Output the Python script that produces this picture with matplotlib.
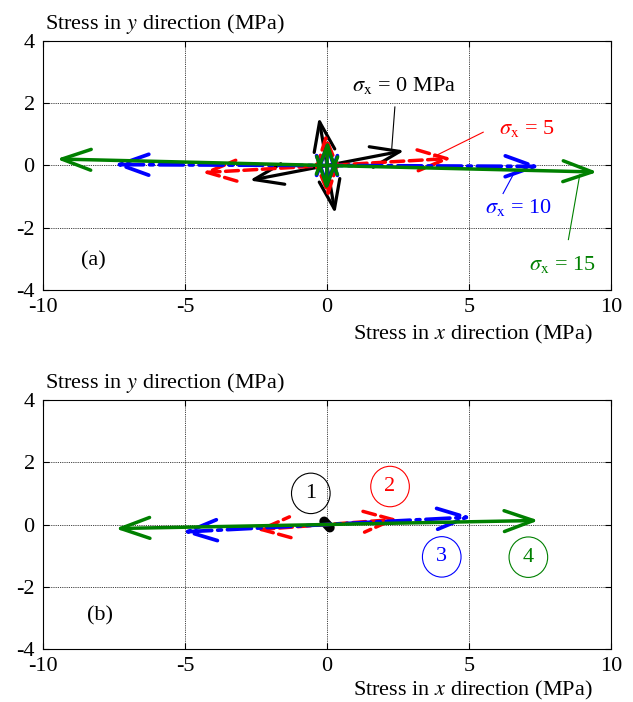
import matplotlib
matplotlib.use('Agg')
import matplotlib.pyplot as plt
from matplotlib.patches import FancyArrowPatch, Ellipse

plt.rcParams['font.family'] = ['Liberation Serif', 'DejaVu Serif']
plt.rcParams['mathtext.fontset'] = 'stix'
plt.rcParams['axes.unicode_minus'] = False

# ---------------- data ----------------
# panel (a): sigma_x = 0, 5, 10, 15 MPa
# tip of one arrowhead of each principal stress (the other tip is the mirror)
MAJOR_A_X = [2.73, 4.40, 7.50, 9.52]
MAJOR_A_Y = [0.48, 0.23, -0.03, -0.21]
MINOR_A_X = [-0.29, -0.05, 0.00, 0.02]
MINOR_A_Y = [1.55, 1.05, 0.80, 0.82]

ANNOT_TEXT = [r'$\sigma_{\mathrm{x}}$ = 0 MPa', r'$\sigma_{\mathrm{x}}$ = 5',
              r'$\sigma_{\mathrm{x}}$ = 10', r'$\sigma_{\mathrm{x}}$ = 15']
ANNOT_X = [0.87, 6.07, 5.56, 7.12]
ANNOT_Y = [2.56, 1.20, -1.35, -3.17]
LEADER_X0 = [2.39, 5.50, 6.20, 8.50]
LEADER_Y0 = [1.88, 1.07, -0.90, -2.38]
LEADER_X1 = [2.28, 3.75, 6.63, 8.90]
LEADER_Y1 = [0.55, 0.28, -0.17, -0.30]

# panel (b): cases 1-4
MAJOR_B_X = [0.10, 2.50, 5.10, 7.45]
MAJOR_B_Y = [-0.10, 0.17, 0.24, 0.13]
CASE_LABELS = ['1', '2', '3', '4']
CASE_X = [-0.57, 2.22, 4.04, 7.09]
CASE_Y = [1.00, 1.22, -1.04, -1.05]

XTICKS = [-10, -5, 0, 5, 10]
YTICKS = [-4, -2, 0, 2, 4]

# ---------------- style ----------------
COLORS = ['black', 'red', 'blue', '#008000']
STYLES = ['-', '--', '-.', '-']
WIDTHS = [2.3, 2.5, 2.7, 2.5]
FS = 16


def draw_arrow(ax, dx, dy, i, hl=21, hw=7.5, lw=None):
    arr = FancyArrowPatch((-dx, -dy), (dx, dy),
                          arrowstyle=f'<->,head_length={hl},head_width={hw}',
                          mutation_scale=1, shrinkA=0, shrinkB=0,
                          color=COLORS[i], linestyle=STYLES[i],
                          linewidth=WIDTHS[i] if lw is None else lw, zorder=3 + i)
    ax.add_patch(arr)


def setup_axes(ax):
    ax.set_xlim(-10, 10)
    ax.set_ylim(-4, 4)
    ax.set_xticks(XTICKS)
    ax.set_yticks(YTICKS)
    ax.grid(True, color='black', linestyle=(0, (1, 1.2)), linewidth=0.6)
    ax.set_axisbelow(True)
    ax.tick_params(direction='in', top=True, right=True, length=4,
                   labelsize=FS, pad=6)


fig = plt.figure(figsize=(6.33, 7.02), dpi=100)
W, H = 633, 702
ax_a = fig.add_axes([43 / W, 1 - 290 / H, 568 / W, 249 / H])
ax_b = fig.add_axes([43 / W, 1 - 649 / H, 568 / W, 249 / H])

# panel (a)
setup_axes(ax_a)
for i in range(4):
    draw_arrow(ax_a, MAJOR_A_X[i], MAJOR_A_Y[i], i)
    draw_arrow(ax_a, MINOR_A_X[i], MINOR_A_Y[i], i)
    ax_a.plot([LEADER_X0[i], LEADER_X1[i]], [LEADER_Y0[i], LEADER_Y1[i]],
              color=COLORS[i], lw=0.8)
    ax_a.text(ANNOT_X[i], ANNOT_Y[i], ANNOT_TEXT[i], color=COLORS[i],
              fontsize=FS, ha='left', va='center')
ax_a.text(-8.22, -3.07, '(a)', fontsize=FS, ha='center', va='center')

# panel (b)
setup_axes(ax_b)
for i in range(4):
    if i == 0:
        # case 1 is nearly zero: arrows collapse to a black blob at the origin
        ax_b.plot([-MAJOR_B_X[i], MAJOR_B_X[i]], [-MAJOR_B_Y[i], MAJOR_B_Y[i]],
                  color=COLORS[i], lw=7, solid_capstyle='round', zorder=3)
    else:
        draw_arrow(ax_b, MAJOR_B_X[i], MAJOR_B_Y[i], i)
    ax_b.add_patch(Ellipse((CASE_X[i], CASE_Y[i]), 1.36, 1.30, fill=False,
                           edgecolor=COLORS[i], lw=0.8, zorder=5))
    ax_b.text(CASE_X[i], CASE_Y[i], CASE_LABELS[i], color=COLORS[i],
              fontsize=FS, ha='center', va='center')
ax_b.text(-7.99, -2.94, '(b)', fontsize=FS, ha='center', va='center')

# axis titles, placed like the original (y on top left, x below right)
for top, bottom, drop in [(41, 290, 49), (400, 649, 46)]:
    fig.text(45 / W, 1 - (top - 12) / H, r'Stress in $y$ direction (MPa)',
             fontsize=FS, ha='left', va='baseline')
    fig.text(593 / W, 1 - (bottom + drop) / H, r'Stress in $x$ direction (MPa)',
             fontsize=FS, ha='right', va='baseline')

fig.savefig('out.png', dpi=100)
